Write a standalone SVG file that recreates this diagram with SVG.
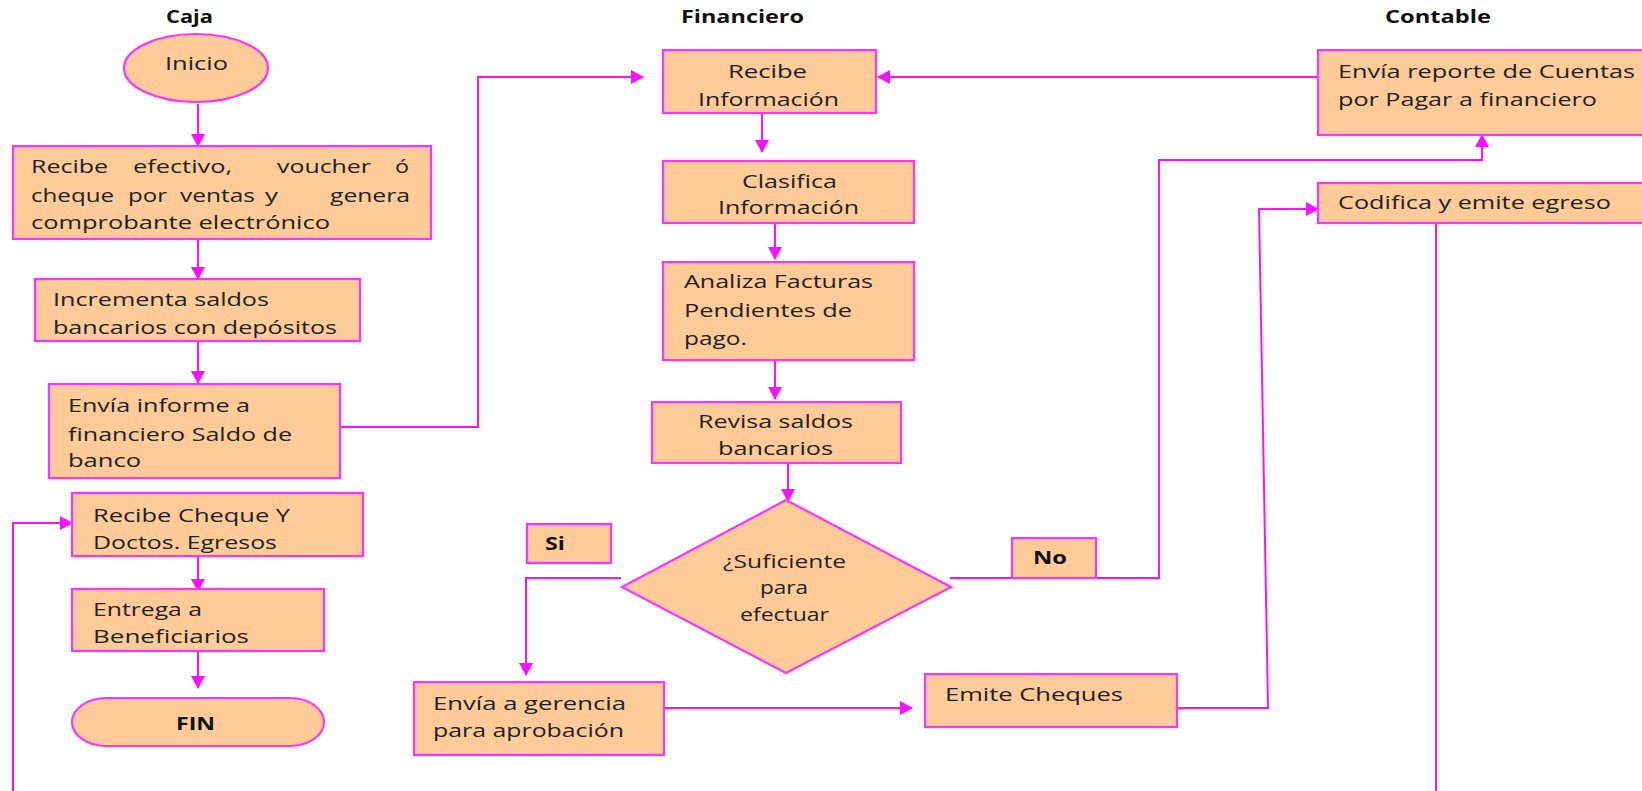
<svg xmlns="http://www.w3.org/2000/svg" width="1642" height="791" viewBox="0 0 1642 791">
<style>
.box{fill:#FFCC99;stroke:#FF33FF;stroke-width:2.2}
.t{font-family:"Open Sans","Liberation Sans",sans-serif;font-size:18px;fill:#222}
.b{font-family:"Open Sans","Liberation Sans",sans-serif;font-size:17px;font-weight:bold;fill:#111}
.c{fill:none;stroke:#FF11FF;stroke-width:2}
</style>
<defs>
<marker id="ah" markerWidth="14" markerHeight="14" refX="12" refY="7" orient="auto" markerUnits="userSpaceOnUse">
<path d="M0,0 L13,7 L0,14 Z" fill="#FF11FF"/>
</marker>
<clipPath id="clip2"><rect x="35" y="279" width="325" height="62"/></clipPath>
<clipPath id="clip4"><rect x="72" y="493" width="291" height="63"/></clipPath>
</defs>
<rect width="1642" height="791" fill="#ffffff"/>

<g id="titles">
<text class="b" x="166" y="23" textLength="47" lengthAdjust="spacingAndGlyphs">Caja</text>
<text class="b" x="681" y="23" textLength="123" lengthAdjust="spacingAndGlyphs">Financiero</text>
<text class="b" x="1385" y="23" textLength="106" lengthAdjust="spacingAndGlyphs">Contable</text>
</g>

<g id="connectors">
<path class="c" d="M198,104 V146" marker-end="url(#ah)"/>
<path class="c" d="M198,239 V279" marker-end="url(#ah)"/>
<path class="c" d="M198,342 V383" marker-end="url(#ah)"/>
<path class="c" d="M340,427 H478 V77 H643" marker-end="url(#ah)"/>
<path class="c" d="M1318,77 H878" marker-end="url(#ah)"/>
<path class="c" d="M762,113 V152" marker-end="url(#ah)"/>
<path class="c" d="M775,223 V259" marker-end="url(#ah)"/>
<path class="c" d="M775,360 V399" marker-end="url(#ah)"/>
<path class="c" d="M788,463 V501" marker-end="url(#ah)"/>
<path class="c" d="M621,578 H526 V675" marker-end="url(#ah)"/>
<path class="c" d="M664,708 H912" marker-end="url(#ah)"/>
<path class="c" d="M950,578 H1159 V160 H1482 V135" marker-end="url(#ah)"/>
<path class="c" d="M1177,708 H1268 L1259,209 H1318" marker-end="url(#ah)"/>
<path class="c" d="M1436,223 V791"/>
<path class="c" d="M13,791 V523 H72" marker-end="url(#ah)"/>
<path class="c" d="M198,556 V591" marker-end="url(#ah)"/>
<path class="c" d="M198,651 V688" marker-end="url(#ah)"/>
</g>

<g id="inicio">
<ellipse class="box" cx="196" cy="68" rx="72" ry="34"/>
<text class="t" x="165" y="70" textLength="63" lengthAdjust="spacingAndGlyphs">Inicio</text>
</g>

<g id="recibe-efectivo">
<rect class="box" x="13" y="146" width="418" height="93"/>
<text class="t" x="31" y="173" textLength="77" lengthAdjust="spacingAndGlyphs">Recibe</text>
<text class="t" x="133" y="173" textLength="99" lengthAdjust="spacingAndGlyphs">efectivo,</text>
<text class="t" x="277" y="173" textLength="94" lengthAdjust="spacingAndGlyphs">voucher</text>
<text class="t" x="395" y="173" textLength="14" lengthAdjust="spacingAndGlyphs">ó</text>
<text class="t" x="31" y="202" textLength="83" lengthAdjust="spacingAndGlyphs">cheque</text>
<text class="t" x="128" y="202" textLength="39" lengthAdjust="spacingAndGlyphs">por</text>
<text class="t" x="180" y="202" textLength="75" lengthAdjust="spacingAndGlyphs">ventas</text>
<text class="t" x="265" y="202" textLength="13" lengthAdjust="spacingAndGlyphs">y</text>
<text class="t" x="330" y="202" textLength="80" lengthAdjust="spacingAndGlyphs">genera</text>
<text class="t" x="31" y="229" textLength="299" lengthAdjust="spacingAndGlyphs">comprobante electrónico</text>
</g>

<g id="incrementa">
<rect class="box" x="35" y="279" width="325" height="62"/>
<g clip-path="url(#clip2)">
<text class="t" x="53" y="306" textLength="216" lengthAdjust="spacingAndGlyphs">Incrementa saldos</text>
<text class="t" x="53" y="334" textLength="284" lengthAdjust="spacingAndGlyphs">bancarios con depósitos</text>
</g>
</g>

<g id="envia-informe">
<rect class="box" x="49" y="384" width="291" height="94"/>
<text class="t" x="68" y="412" textLength="182" lengthAdjust="spacingAndGlyphs">Envía informe a</text>
<text class="t" x="68" y="441" textLength="224" lengthAdjust="spacingAndGlyphs">financiero Saldo de</text>
<text class="t" x="68" y="467" textLength="73" lengthAdjust="spacingAndGlyphs">banco</text>
</g>

<g id="recibe-cheque">
<rect class="box" x="72" y="493" width="291" height="63"/>
<g clip-path="url(#clip4)">
<text class="t" x="93" y="522" textLength="197" lengthAdjust="spacingAndGlyphs">Recibe Cheque Y</text>
<text class="t" x="93" y="549" textLength="184" lengthAdjust="spacingAndGlyphs">Doctos. Egresos</text>
</g>
</g>

<g id="entrega">
<rect class="box" x="72" y="589" width="252" height="62"/>
<text class="t" x="93" y="616" textLength="109" lengthAdjust="spacingAndGlyphs">Entrega a</text>
<text class="t" x="93" y="643" textLength="156" lengthAdjust="spacingAndGlyphs">Beneficiarios</text>
</g>

<g id="fin">
<rect class="box" x="72" y="698" width="252" height="48" rx="34" ry="24"/>
<text class="b" x="176" y="730" textLength="39" lengthAdjust="spacingAndGlyphs">FIN</text>
</g>

<g id="recibe-informacion">
<rect class="box" x="663" y="50" width="213" height="63"/>
<text class="t" x="728" y="78" textLength="79" lengthAdjust="spacingAndGlyphs">Recibe</text>
<text class="t" x="698" y="106" textLength="141" lengthAdjust="spacingAndGlyphs">Información</text>
</g>

<g id="clasifica">
<rect class="box" x="663" y="161" width="251" height="62"/>
<text class="t" x="742" y="188" textLength="95" lengthAdjust="spacingAndGlyphs">Clasifica</text>
<text class="t" x="718" y="214" textLength="141" lengthAdjust="spacingAndGlyphs">Información</text>
</g>

<g id="analiza">
<rect class="box" x="663" y="262" width="251" height="98"/>
<text class="t" x="684" y="288" textLength="189" lengthAdjust="spacingAndGlyphs">Analiza Facturas</text>
<text class="t" x="684" y="317" textLength="168" lengthAdjust="spacingAndGlyphs">Pendientes de</text>
<text class="t" x="684" y="345" textLength="63" lengthAdjust="spacingAndGlyphs">pago.</text>
</g>

<g id="revisa">
<rect class="box" x="652" y="402" width="249" height="61"/>
<text class="t" x="698" y="428" textLength="155" lengthAdjust="spacingAndGlyphs">Revisa saldos</text>
<text class="t" x="718" y="455" textLength="115" lengthAdjust="spacingAndGlyphs">bancarios</text>
</g>

<g id="decision">
<polygon class="box" points="786,500 951,587 786,673 622,587"/>
<text class="t" x="723" y="568" textLength="123" lengthAdjust="spacingAndGlyphs">¿Suficiente</text>
<text class="t" x="760" y="594" textLength="48" lengthAdjust="spacingAndGlyphs">para</text>
<text class="t" x="740" y="621" textLength="89" lengthAdjust="spacingAndGlyphs">efectuar</text>
</g>

<g id="si">
<rect class="box" x="527" y="524" width="84" height="39"/>
<text class="b" x="545" y="550" textLength="20" lengthAdjust="spacingAndGlyphs">Si</text>
</g>

<g id="no">
<rect class="box" x="1012" y="538" width="84" height="40"/>
<text class="b" x="1033" y="564" textLength="34" lengthAdjust="spacingAndGlyphs">No</text>
</g>

<g id="envia-gerencia">
<rect class="box" x="414" y="682" width="250" height="73"/>
<text class="t" x="433" y="710" textLength="193" lengthAdjust="spacingAndGlyphs">Envía a gerencia</text>
<text class="t" x="433" y="737" textLength="191" lengthAdjust="spacingAndGlyphs">para aprobación</text>
</g>

<g id="emite-cheques">
<rect class="box" x="925" y="674" width="252" height="53"/>
<text class="t" x="945" y="701" textLength="178" lengthAdjust="spacingAndGlyphs">Emite Cheques</text>
</g>

<g id="envia-reporte">
<rect class="box" x="1318" y="50" width="340" height="85"/>
<text class="t" x="1338" y="78" textLength="297" lengthAdjust="spacingAndGlyphs">Envía reporte de Cuentas</text>
<text class="t" x="1338" y="106" textLength="259" lengthAdjust="spacingAndGlyphs">por Pagar a financiero</text>
</g>

<g id="codifica">
<rect class="box" x="1318" y="183" width="340" height="40"/>
<text class="t" x="1338" y="209" textLength="273" lengthAdjust="spacingAndGlyphs">Codifica y emite egreso</text>
</g>
</svg>
